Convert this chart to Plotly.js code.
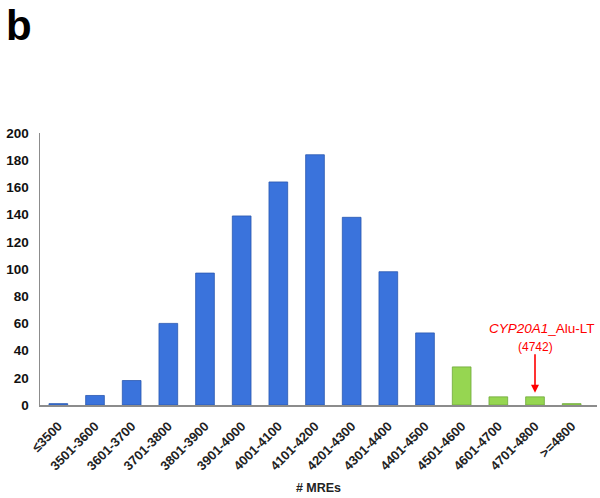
<!DOCTYPE html>
<html><head><meta charset="utf-8">
<script src="https://cdn.plot.ly/plotly-3.0.1.min.js"></script>
<style>body{margin:0;}#chart{width:600px;height:498px;}</style>
</head><body><div id="chart"></div>
<script>
const categories = ["≤3500","3501-3600","3601-3700","3701-3800","3801-3900","3901-4000","4001-4100","4101-4200","4201-4300","4301-4400","4401-4500","4501-4600","4601-4700","4701-4800",">=4800"];
const counts = [1,7,18,60,97,139,164,184,138,98,53,28,6,6,1];
const groups = ["blue","blue","blue","blue","blue","blue","blue","blue","blue","blue","blue","green","green","green","green"];
const yTicks = [0,20,40,60,80,100,120,140,160,180,200];
const highlightCat = "4701-4800";
const highlightValue = 4742;

const fillColors = groups.map(g => g === "blue" ? "#3a73dc" : "#96d651");
const lineColors = groups.map(g => g === "blue" ? "#2a58b0" : "#6fa83a");
const hiIndex = categories.indexOf(highlightCat);

const trace = {
  type: "bar", x: categories, y: counts,
  marker: {color: fillColors, line: {color: lineColors, width: 0.8}},
  width: 0.51, hoverinfo: "none"
};
const font = "Liberation Sans, Arial, sans-serif";
const layout = {
  width: 600, height: 498,
  margin: {l: 40, r: 3, t: 133, b: 93},
  paper_bgcolor: "#fff", plot_bgcolor: "#fff",
  showlegend: false,
  xaxis: {
    type: "category", tickangle: -45,
    showline: true, linecolor: "#8c8c8c", linewidth: 1.5,
    ticks: "", showgrid: false, zeroline: false, ticklabelstandoff: 7,
    tickfont: {family: font, size: 13, color: "#222", weight: "bold"},
    title: {text: "# MREs", font: {family: font, size: 12.5, color: "#222", weight: "bold"}, standoff: 11}
  },
  yaxis: {
    range: [0, 200], tickvals: yTicks, ticktext: yTicks.map(String),
    showline: true, linecolor: "#8c8c8c", linewidth: 1.5,
    ticks: "", showgrid: false, zeroline: false, ticklabelstandoff: 7,
    tickfont: {family: font, size: 13.5, color: "#111", weight: "bold"}
  },
  annotations: [
    {xref: "paper", yref: "paper", x: -0.065, y: 1.489, xanchor: "left", yanchor: "top",
     text: "<b>b</b>", showarrow: false, font: {family: font, size: 42, color: "#000"}},
    {x: categories[hiIndex], y: 9, xref: "x", yref: "y",
     ax: 0, ay: -40, showarrow: true, arrowcolor: "#ff0000", arrowwidth: 1.6,
     arrowhead: 2, arrowsize: 1, text: "", standoff: 0},
    {x: categories[hiIndex], y: 42.5, xref: "x", yref: "y",
     xanchor: "center", yanchor: "middle", showarrow: false,
     text: "(" + highlightValue + ")", font: {family: font, size: 12, color: "#ff0000"}},
    {x: categories[hiIndex], y: 56, xref: "x", yref: "y",
     xanchor: "center", yanchor: "middle", xshift: 7, showarrow: false,
     text: "<i>CYP20A1</i>_Alu-LT", font: {family: font, size: 13.5, color: "#ff0000"}}
  ]
};
Plotly.newPlot("chart", [trace], layout, {displayModeBar: false, staticPlot: true});
</script></body></html>
